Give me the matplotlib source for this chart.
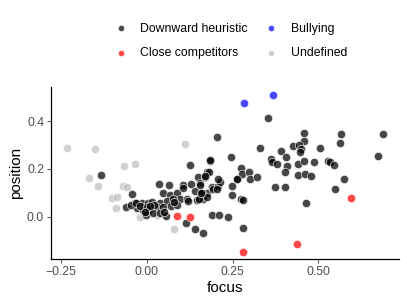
import numpy as np
import matplotlib
matplotlib.use("Agg")
import matplotlib.pyplot as plt

plt.rcParams['font.family'] = ['Liberation Sans', 'DejaVu Sans']

# values
dh_focus = [-0.134, -0.044, -0.060, 0.126, 0.177, 0.149, 0.130, 0.155, 0.037, 0.064,
            0.105, 0.047, 0.068, 0.087, 0.097, 0.140, 0.160, 0.175, -0.034, -0.015,
            0.005, 0.039, 0.060, 0.078, 0.117, 0.146, 0.163, -0.027, -0.010, 0.008,
            0.029, 0.048, 0.070, 0.089, -0.002, 0.017, 0.039, 0.056, 0.113, 0.142,
            0.163, 0.015, -0.045, -0.031, 0.107, 0.119, 0.155, 0.171, 0.185, 0.189,
            0.194, 0.208, 0.214, 0.204, 0.262, 0.161, 0.175, 0.152, 0.353, 0.459,
            0.565, 0.689, 0.564, 0.457, 0.426, 0.445, 0.450, 0.447, 0.331, 0.391,
            0.504, 0.247, 0.361, 0.366, 0.381, 0.407, 0.409, 0.441, 0.458, 0.487,
            0.529, 0.535, 0.545, 0.673, 0.404, 0.440, 0.462, 0.478, 0.576, 0.185,
            0.181, 0.171, 0.208, 0.206, 0.159, 0.276, 0.278, 0.299, 0.301, 0.263,
            0.321, 0.249, 0.249, 0.375, 0.403, 0.548, 0.274, 0.282, 0.465, 0.190,
            0.212, 0.236, 0.280, -0.020, 0.000, 0.022, 0.050, 0.080, 0.010, -0.005]
dh_position = [0.173, 0.094, 0.042, 0.218, 0.186, 0.166, 0.137, 0.140, 0.137, 0.132,
               0.132, 0.101, 0.092, 0.098, 0.073, 0.109, 0.098, 0.101, 0.059, 0.059,
               0.056, 0.056, 0.067, 0.073, 0.073, 0.070, 0.073, 0.034, 0.028, 0.028,
               0.039, 0.042, 0.045, 0.050, 0.007, 0.014, 0.017, 0.003, -0.028, -0.050,
               -0.070, 0.062, 0.050, 0.056, 0.119, 0.067, 0.134, 0.168, 0.232, 0.126,
               0.117, 0.129, 0.145, 0.335, 0.157, 0.098, 0.081, 0.073, 0.415, 0.349,
               0.347, 0.348, 0.307, 0.319, 0.296, 0.299, 0.282, 0.271, 0.287, 0.277,
               0.289, 0.252, 0.243, 0.231, 0.222, 0.249, 0.214, 0.221, 0.232, 0.228,
               0.232, 0.229, 0.215, 0.253, 0.187, 0.176, 0.180, 0.172, 0.159, 0.236,
               0.187, 0.171, 0.158, 0.115, 0.101, 0.203, 0.178, 0.185, 0.159, 0.159,
               0.168, 0.129, 0.092, 0.124, 0.124, 0.117, 0.073, 0.070, 0.056, 0.008,
               0.008, -0.003, -0.049, 0.045, 0.040, 0.048, 0.020, 0.060, 0.045, 0.020]

cc_focus = [0.087, 0.126, 0.282, 0.437, 0.595]
cc_position = [0.003, -0.003, -0.148, -0.117, 0.076]

bu_focus = [0.284, 0.368]
bu_position = [0.477, 0.510]

un_focus = [-0.233, -0.151, -0.168, -0.143, -0.066, -0.034, -0.070, -0.058, -0.102, -0.088,
            -0.090, -0.021, 0.080, 0.111, -0.010, 0.030]
un_position = [0.289, 0.284, 0.161, 0.130, 0.214, 0.221, 0.130, 0.123, 0.078, 0.081,
               0.035, -0.003, -0.053, 0.303, 0.020, 0.005]

groups = ['Downward heuristic', 'Close competitors', 'Bullying', 'Undefined']
colors = ['black', 'red', 'blue', '#bfbfbf']

fig = plt.figure(figsize=(4.07, 3.05), dpi=100)
ax = fig.add_axes([0.1253, 0.150, 0.8557, 0.565])

data = [(un_focus, un_position), (dh_focus, dh_position),
        (cc_focus, cc_position), (bu_focus, bu_position)]
order = [3, 0, 1, 2]
handles = {}
for (fx, fy), gi in zip(data, order):
    h = ax.scatter(fx, fy, s=36, color=colors[gi], alpha=0.72,
                   edgecolors='white', linewidths=0.6, label=groups[gi])
    handles[gi] = h

ax.set_xlim(-0.279, 0.736)
ax.set_ylim(-0.179, 0.544)
ax.set_xticks([-0.25, 0.0, 0.25, 0.5])
ax.set_xticklabels(['\u22120.25', '0.00', '0.25', '0.50'])
ax.set_yticks([0.0, 0.2, 0.4])
ax.set_yticklabels(['0.0', '0.2', '0.4'])
for s in ['top', 'right']:
    ax.spines[s].set_visible(False)
for s in ['left', 'bottom']:
    ax.spines[s].set_linewidth(0.9)
ax.tick_params(length=3, width=0.6, color='#333333', labelcolor='#4d4d4d',
               labelsize=8.8, pad=2)
ax.set_xlabel('focus', fontsize=11, labelpad=2)
ax.set_ylabel('position', fontsize=11, labelpad=3)

leg = fig.legend([handles[i] for i in range(4)], groups, ncol=2, frameon=False,
                 loc='upper left', bbox_to_anchor=(0.255, 0.962), fontsize=8.8,
                 markerscale=0.75, handlelength=1.0, handletextpad=1.1,
                 columnspacing=1.4, labelspacing=1.05)
for lh in leg.legend_handles:
    lh.set_alpha(0.72)

fig.savefig('out.png', dpi=100)
